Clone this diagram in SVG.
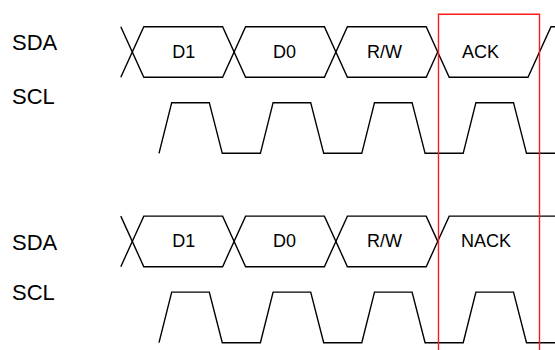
<svg xmlns="http://www.w3.org/2000/svg" width="555" height="350" viewBox="0 0 555 350">
<style>
.w{fill:none;stroke:#000;stroke-width:1.4;stroke-linejoin:miter}
.lbl{font-family:"Liberation Sans",Arial,sans-serif;font-size:22px;fill:#000}
.t{font-family:"Liberation Sans",Arial,sans-serif;font-size:18px;fill:#000}
.hl{fill:none;stroke:#ff1a1a;stroke-width:1.4}
</style>
<rect width="555" height="350" fill="#fff"/>
<g id="labels">
<text class="lbl" x="12" y="50">SDA</text>
<text class="lbl" x="12" y="104">SCL</text>
<text class="lbl" x="12" y="250">SDA</text>
<text class="lbl" x="12" y="300">SCL</text>
</g>
<g id="connectors">
<!-- top SDA -->
<path class="w" d="M120.8,26.7 L143.8,77.3 L222.6,77.3 L245.6,26.7 L324.4,26.7 L347.4,77.3 L426.2,77.3 L437.7,52"/>
<path class="w" d="M120.8,77.3 L143.8,26.7 L222.6,26.7 L245.6,77.3 L324.4,77.3 L347.4,26.7 L426.2,26.7 L449.2,77.3 L528,77.3 L551,26.7 L555,26.7"/>
<!-- top SCL -->
<path class="w" d="M159,153.3 L171.7,102.7 L209.3,102.7 L222.3,153.3 L260.4,153.3 L273.1,102.7 L310.7,102.7 L323.7,153.3 L361.8,153.3 L374.5,102.7 L412.1,102.7 L425.1,153.3 L463.2,153.3 L475.9,102.7 L513.5,102.7 L526.5,153.3 L555,153.3"/>
<!-- bottom SDA -->
<path class="w" d="M120.8,216.1 L143.8,266.7 L222.6,266.7 L245.6,216.1 L324.4,216.1 L347.4,266.7 L426.2,266.7 L449.2,216.1 L555,216.1"/>
<path class="w" d="M120.8,266.7 L143.8,216.1 L222.6,216.1 L245.6,266.7 L324.4,266.7 L347.4,216.1 L426.2,216.1 L437.7,241.4"/>
<!-- bottom SCL -->
<path class="w" d="M159,342.7 L171.7,292.1 L209.3,292.1 L222.3,342.7 L260.4,342.7 L273.1,292.1 L310.7,292.1 L323.7,342.7 L361.8,342.7 L374.5,292.1 L412.1,292.1 L425.1,342.7 L463.2,342.7 L475.9,292.1 L513.5,292.1 L526.5,342.7 L555,342.7"/>
</g>
<g id="bits-top">
<text class="t" x="172.3" y="58">D1</text>
<text class="t" x="273" y="58">D0</text>
<text class="t" x="367" y="58">R/W</text>
<text class="t" x="462" y="58">ACK</text>
</g>
<g id="bits-bottom">
<text class="t" x="172.3" y="247">D1</text>
<text class="t" x="273" y="247">D0</text>
<text class="t" x="367" y="247">R/W</text>
<text class="t" x="461" y="247">NACK</text>
</g>
<g id="ack-window">
<path class="hl" d="M438.5,352 L438.5,14.3 L539.5,14.3 L539.5,352"/>
</g>
</svg>
